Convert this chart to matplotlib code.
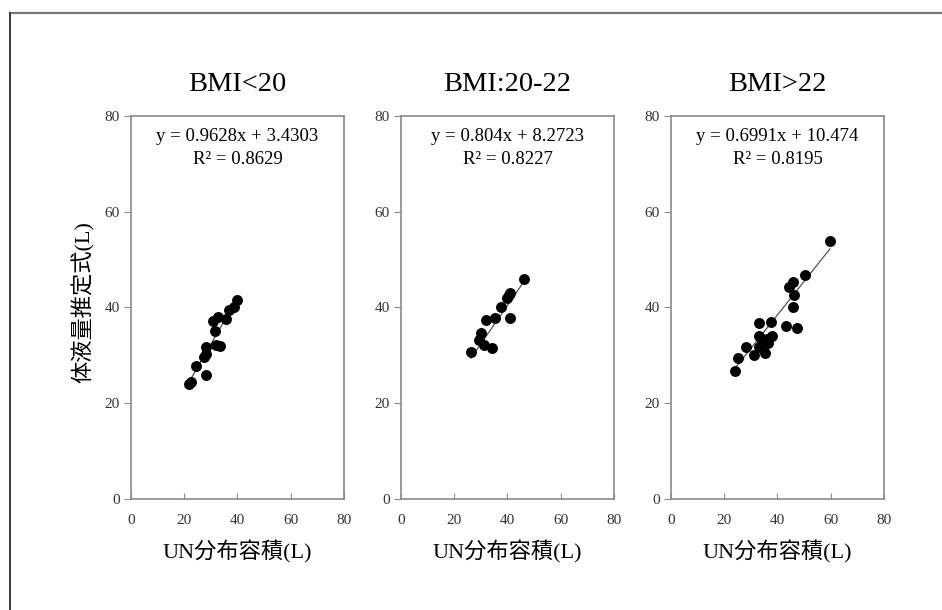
import matplotlib.pyplot as plt
import numpy as np
from matplotlib.lines import Line2D

# Data (UN volume vs. estimated body fluid volume)
titles = ['BMI<20', 'BMI:20-22', 'BMI>22']
equations = ['y = 0.9628x + 3.4303', 'y = 0.804x + 8.2723', 'y = 0.6991x + 10.474']
r2_labels = ['R² = 0.8629', 'R² = 0.8227', 'R² = 0.8195']
slopes = [0.9628, 0.804, 0.6991]
intercepts = [3.4303, 8.2723, 10.474]

x_low = [21.7, 22.4, 24.5, 28.0, 27.3, 28.0, 28.3, 31.8, 33.3, 31.4, 30.8, 32.7, 35.8, 36.8, 38.6, 39.9]
y_low = [24.0, 24.5, 27.8, 25.9, 29.7, 30.3, 31.8, 32.1, 31.9, 35.1, 37.2, 38.1, 37.5, 39.5, 40.0, 41.5]

x_mid = [26.3, 29.2, 30.1, 31.1, 34.3, 32.1, 35.2, 37.4, 40.8, 39.9, 40.5, 40.9, 46.2]
y_mid = [30.6, 33.2, 34.7, 32.2, 31.5, 37.4, 37.7, 40.1, 37.8, 41.9, 42.6, 43.1, 45.9]

x_high = [24.2, 25.0, 28.3, 31.1, 33.0, 33.0, 33.0, 35.2, 34.8, 36.3, 38.0, 37.7, 36.1, 34.2,
          43.4, 47.2, 45.9, 46.4, 44.3, 45.9, 50.2, 59.7]
y_high = [26.7, 29.5, 31.7, 30.1, 31.8, 34.0, 36.7, 30.4, 32.8, 32.5, 34.0, 37.0, 33.5, 33.3,
          36.1, 35.8, 40.0, 42.7, 44.3, 45.4, 46.8, 53.9]

xs = [x_low, x_mid, x_high]
ys = [y_low, y_mid, y_high]

ticks = [0, 20, 40, 60, 80]

serif = ['Liberation Serif', 'Noto Sans CJK JP']
mixed = ['Liberation Serif', 'Noto Sans CJK JP']

fig = plt.figure(figsize=(9.42, 6.10), dpi=100)

# outer frame (top and left edges only)
fig.add_artist(Line2D([9.5 / 942, 1.0], [1 - 12.5 / 610] * 2, color='#7a7a7a', lw=1.6))
fig.add_artist(Line2D([9.5 / 942] * 2, [0, 1 - 12.5 / 610], color='#3a3a3a', lw=1.4))

lefts = [131 / 942, 401 / 942, 671 / 942]
for i in range(3):
    ax = fig.add_axes([lefts[i], 0.182, 0.226, 0.628])
    ax.scatter(xs[i], ys[i], s=62, color='black', zorder=3, linewidths=0)
    xl = np.array([min(xs[i]), max(xs[i])])
    ax.plot(xl, slopes[i] * xl + intercepts[i], color='#555555', lw=0.9, zorder=2)
    ax.set_xlim(0, 80)
    ax.set_ylim(0, 80)
    ax.set_xticks(ticks)
    ax.set_yticks(ticks)
    for sp in ax.spines.values():
        sp.set_color('#8a8a8a')
        sp.set_linewidth(1.2)
    ax.tick_params(axis='x', direction='in', length=4, color='#8a8a8a', pad=11, labelcolor='#333333')
    ax.tick_params(axis='y', direction='out', length=5, color='#8a8a8a', pad=3, labelcolor='#333333')
    for lab in ax.get_xticklabels() + ax.get_yticklabels():
        lab.set_family(serif)
        lab.set_fontsize(11)
    ax.text(0.5, 1.083, titles[i], transform=ax.transAxes, ha='center', va='center',
            fontsize=20.5, family=serif)
    ax.text(0.5, 0.945, equations[i], transform=ax.transAxes, ha='center', va='center',
            fontsize=13.5, family=serif)
    ax.text(0.5, 0.886, r2_labels[i], transform=ax.transAxes, ha='center', va='center',
            fontsize=13.5, family=serif)
    ax.text(0.5, -0.138, 'UN分布容積(L)', transform=ax.transAxes, ha='center', va='center',
            fontsize=16, family=mixed)
    if i == 0:
        ax.text(-0.225, 0.513, '体液量推定式(L)', transform=ax.transAxes, ha='center', va='center',
                rotation=90, fontsize=16, family=mixed)

fig.savefig('out.png', dpi=100)
